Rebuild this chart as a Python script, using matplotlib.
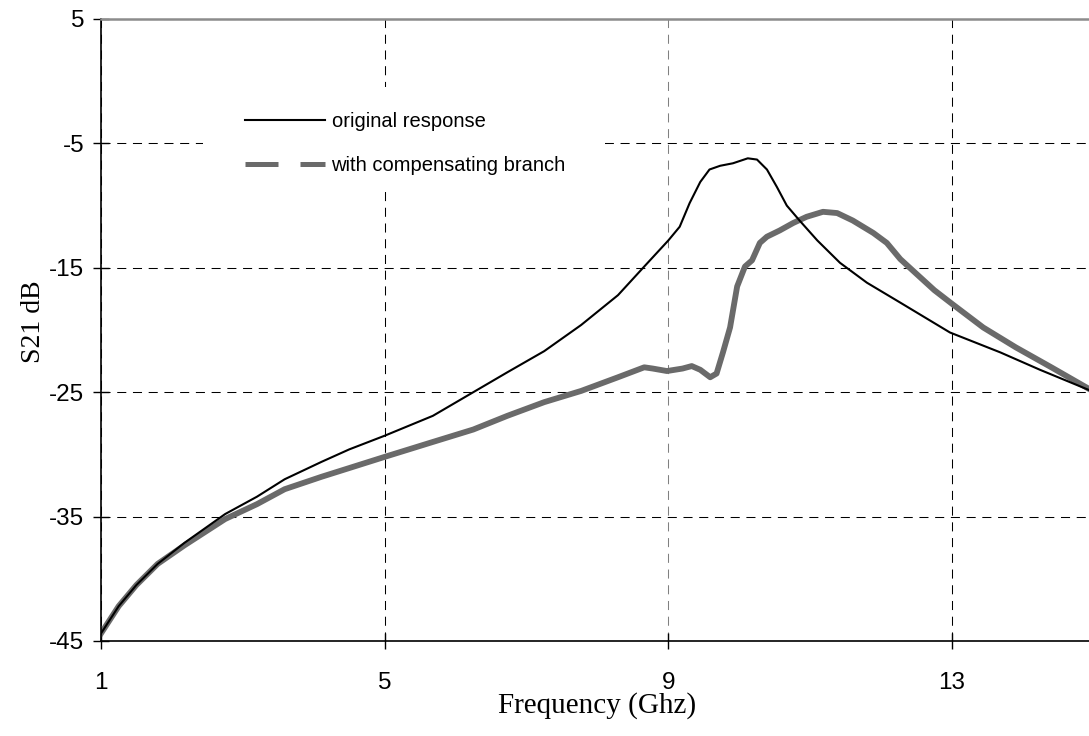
import numpy as np
import matplotlib.pyplot as plt
from matplotlib.lines import Line2D
from matplotlib.patches import Rectangle

plt.rcParams['axes.unicode_minus'] = False

# original response (black)
freq_orig = [1.0, 1.25, 1.5, 1.8, 2.18, 2.75, 3.2, 3.59, 4.11, 4.5, 5.0, 5.68, 6.25,
             6.73, 7.25, 7.77, 8.29, 8.66, 9.0, 9.16, 9.3, 9.45, 9.58, 9.73, 9.91, 10.12,
             10.25, 10.39, 10.53, 10.67, 10.85, 11.1, 11.42, 11.8, 12.27, 12.97, 13.68,
             14.24, 14.92]
s21_orig = [-44.4, -42.2, -40.5, -38.8, -37.1, -34.8, -33.4, -32.0, -30.6, -29.6, -28.5,
            -26.9, -25.0, -23.4, -21.7, -19.6, -17.2, -14.9, -12.8, -11.7, -9.8, -8.1,
            -7.1, -6.8, -6.6, -6.2, -6.3, -7.1, -8.5, -10.0, -11.2, -12.8, -14.6, -16.2,
            -17.8, -20.2, -21.8, -23.2, -24.8]

# with compensating branch (gray)
freq_comp = [1.0, 1.25, 1.5, 1.8, 2.18, 2.75, 3.2, 3.59, 4.11, 4.5, 5.0, 5.68, 6.25,
             6.73, 7.25, 7.77, 8.29, 8.66, 8.78, 8.98, 9.2, 9.33, 9.45, 9.59, 9.68, 9.77,
             9.87, 9.97, 10.08, 10.18, 10.29, 10.39, 10.57, 10.76, 10.95, 11.18, 11.38,
             11.6, 11.89, 12.08, 12.27, 12.5, 12.75, 13.0, 13.44, 13.9, 14.4, 14.92]
s21_comp = [-44.4, -42.2, -40.5, -38.8, -37.3, -35.2, -34.0, -32.8, -31.8, -31.1, -30.2,
            -29.0, -28.0, -26.9, -25.8, -24.9, -23.8, -23.0, -23.1, -23.3, -23.1, -22.9,
            -23.2, -23.8, -23.5, -21.8, -19.8, -16.5, -14.9, -14.4, -13.0, -12.5, -12.0,
            -11.4, -10.9, -10.5, -10.6, -11.2, -12.2, -13.0, -14.3, -15.5, -16.8, -17.9,
            -19.8, -21.4, -23.0, -24.7]

xticks = [1, 5, 9, 13]
yticks = [5, -5, -15, -25, -35, -45]

fig = plt.figure(figsize=(10.89, 7.36), dpi=100)
ax = fig.add_axes([0.0927, 0.1291, 0.9118, 0.8451])

ax.plot(freq_orig, s21_orig, color='black', lw=1.5, zorder=3)
ax.plot(freq_comp, s21_comp, color='#6a6a6a', lw=4.2, zorder=2)

ax.set_xlim(1, 15)
ax.set_ylim(-45, 5)
ax.set_xticks(xticks)
ax.set_yticks(yticks)
ax.grid(True, color='black', lw=0.75, ls=(0, (8.7, 6.4)))
ax.set_axisbelow(True)
ax.get_xgridlines()[2].set_color('#808080')

for side in ['left', 'bottom']:
    ax.spines[side].set_linewidth(1.2)
ax.spines['right'].set_visible(False)
ax.spines['top'].set_color('#8c8c8c')
ax.spines['top'].set_linewidth(1.8)

ax.tick_params(direction='inout', length=12, width=1.0, labelsize=17.5,
               labelfontfamily='Liberation Sans')
ax.tick_params(axis='x', pad=16)
ax.tick_params(axis='y', pad=6)
ax.tick_params(top=False, right=False)

ax.set_xlabel('Frequency (Ghz)', family='Liberation Serif', fontsize=21, labelpad=-1)
ax.set_ylabel('S21 dB', family='Liberation Serif', fontsize=20, labelpad=2)
ax.yaxis.label.set_y(0.514)

# legend box
ax.add_patch(Rectangle((0.1027, 0.728), 0.405, 0.162, transform=ax.transAxes,
                       facecolor='white', edgecolor='none', zorder=1))
h1 = Line2D([], [], color='black', lw=1.5)
h2 = Line2D([], [], color='#6a6a6a', lw=3.6, dashes=(6.6, 4.4), solid_capstyle='butt',
            dash_capstyle='butt')
ax.legend([h1, h2], ['original response', 'with compensating branch'],
          loc='upper left', bbox_to_anchor=(0.145, 0.851), frameon=False,
          prop={'family': 'Liberation Sans', 'size': 14.5}, handlelength=4.0,
          handletextpad=0.3, labelspacing=1.25, borderpad=0, borderaxespad=0)

plt.savefig('out.png', dpi=100)
